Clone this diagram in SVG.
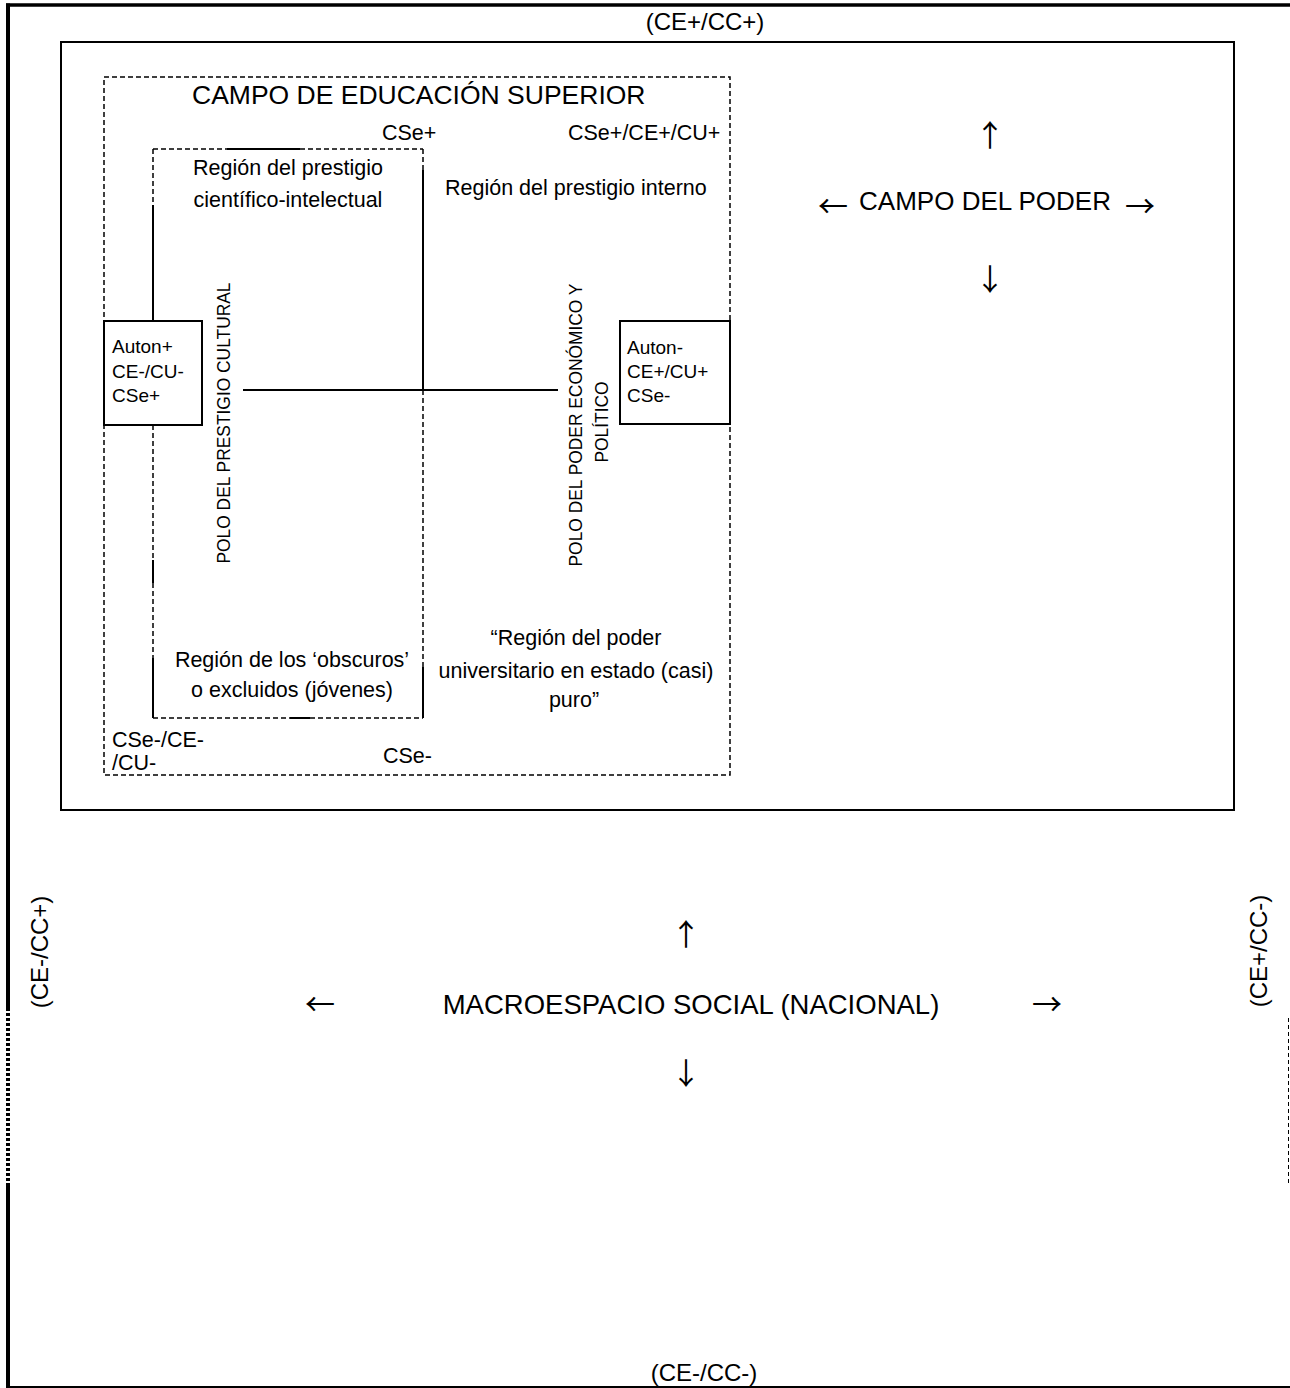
<svg xmlns="http://www.w3.org/2000/svg" width="1290" height="1388" viewBox="0 0 1290 1388">
<style>
text{font-family:"Liberation Sans",Arial,sans-serif;fill:#000}
.r{font-size:21.5px}
.c{font-size:24px}
.b{font-size:19px}
.v{font-size:19px}
.big{font-size:26px}
.ar{font-family:"Noto Sans CJK JP","DejaVu Sans",sans-serif;font-size:30px}
.s{stroke:#000;fill:none}
.d{stroke:#000;fill:none;stroke-width:1.5;stroke-dasharray:5 3}
</style>
<rect width="1290" height="1388" fill="#fff"/>
<g id="outer-frame">
<line class="s" x1="6" y1="5" x2="1290" y2="5" stroke-width="3.5"/>
<line class="s" x1="8" y1="3.5" x2="8" y2="1008" stroke-width="4"/>
<line class="s" x1="8" y1="1008" x2="8" y2="1181" stroke-width="4" stroke-dasharray="3 2"/>
<line class="s" x1="8" y1="1183" x2="8" y2="1388" stroke-width="4"/>
<line class="s" x1="6" y1="1387" x2="1290" y2="1387" stroke-width="2"/>
<line class="s" x1="1288.5" y1="1018" x2="1288.5" y2="1185" stroke-width="1" stroke-dasharray="4 3"/>
<text x="705" y="30" class="c" text-anchor="middle">(CE+/CC+)</text>
<text x="704" y="1381" class="c" text-anchor="middle">(CE-/CC-)</text>
<text transform="translate(48,952) rotate(-90)" class="c" text-anchor="middle">(CE-/CC+)</text>
<text transform="translate(1267,951) rotate(-90)" class="c" text-anchor="middle">(CE+/CC-)</text>
</g>
<g id="macroespacio">
<text x="686" y="945" class="ar" text-anchor="middle">↑</text>
<text x="320" y="1015" class="ar" text-anchor="middle">←</text>
<text x="691" y="1014" font-size="27.5" text-anchor="middle">MACROESPACIO SOCIAL (NACIONAL)</text>
<text x="1047" y="1015" class="ar" text-anchor="middle">→</text>
<text x="686" y="1084" class="ar" text-anchor="middle">↓</text>
</g>
<g id="campo-poder">
<rect class="s" x="61" y="42" width="1173" height="768" stroke-width="2"/>
<text x="990" y="146" class="ar" text-anchor="middle">↑</text>
<text x="833" y="217" class="ar" text-anchor="middle">←</text>
<text x="985" y="210" class="big" text-anchor="middle">CAMPO DEL PODER</text>
<text x="1140" y="217" class="ar" text-anchor="middle">→</text>
<text x="990" y="290" class="ar" text-anchor="middle">↓</text>
</g>
<g id="campo-educacion">
<rect class="d" x="104" y="77" width="626" height="698"/>
<text x="192" y="104" font-size="26.5">CAMPO DE EDUCACIÓN SUPERIOR</text>
<text x="382" y="140" class="r">CSe+</text>
<text x="568" y="140" class="r">CSe+/CE+/CU+</text>
<text x="445" y="195" class="r">Región del prestigio interno</text>
<text x="112" y="747" class="r">CSe-/CE-</text>
<text x="112" y="770" class="r">/CU-</text>
<text x="383" y="763" class="r">CSe-</text>
<text x="576" y="645" class="r" text-anchor="middle">“Región del poder</text>
<text x="576" y="678" class="r" text-anchor="middle">universitario en estado (casi)</text>
<text x="574" y="707" class="r" text-anchor="middle">puro”</text>
<text transform="translate(582,425) rotate(-90) scale(0.915,1)" class="v" text-anchor="middle">POLO DEL PODER ECONÓMICO Y</text>
<text transform="translate(608,422) rotate(-90) scale(0.915,1)" class="v" text-anchor="middle">POLÍTICO</text>
</g>
<g id="region-prestigio">
<path class="d" d="M153 149H227M300 149H423M153 149V205M153 425V560M153 583V658M423 149V170M423 390V667M153 718H290M310 718H423"/>
<path class="s" stroke-width="2" d="M227 149H300M153 205V321M153 560V583M153 658V718M423 170V390M423 667V718M290 718H310"/>
<text x="288" y="175" class="r" text-anchor="middle">Región del prestigio</text>
<text x="288" y="207" class="r" text-anchor="middle">científico-intelectual</text>
<text transform="translate(230,423) rotate(-90) scale(0.915,1)" class="v" text-anchor="middle">POLO DEL PRESTIGIO CULTURAL</text>
<text x="292" y="667" class="r" text-anchor="middle">Región de los ‘obscuros’</text>
<text x="292" y="697" class="r" text-anchor="middle">o excluidos (jóvenes)</text>
</g>
<g id="connectors">
<line class="s" x1="243" y1="390" x2="558" y2="390" stroke-width="2"/>
</g>
<g id="auton-plus">
<rect x="104" y="321" width="98" height="104" fill="#fff" stroke="#000" stroke-width="2"/>
<text x="112" y="353" class="b">Auton+</text>
<text x="112" y="378" class="b">CE-/CU-</text>
<text x="112" y="402" class="b">CSe+</text>
</g>
<g id="auton-minus">
<rect x="620" y="321" width="110" height="103" fill="#fff" stroke="#000" stroke-width="2"/>
<text x="627" y="354" class="b">Auton-</text>
<text x="627" y="378" class="b">CE+/CU+</text>
<text x="627" y="402" class="b">CSe-</text>
</g>
</svg>
